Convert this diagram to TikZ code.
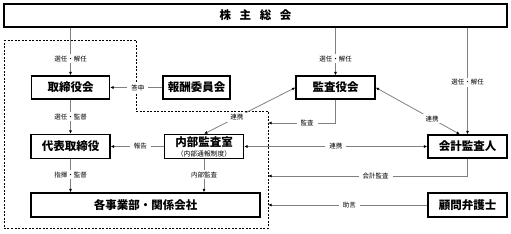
\documentclass[tikz,border=0pt]{standalone}
\usepackage{fontspec}
\newfontfamily\jp{Noto Sans CJK JP}
\usetikzlibrary{arrows.meta}

\begin{document}
\begin{tikzpicture}[x=1pt,y=-1pt,
  box/.style={draw,line width=1.2pt,minimum height=23pt,inner sep=0pt,font=\jp\bfseries\fontsize{11.5}{12}\selectfont},
  conn/.style={draw=black!50,line width=0.8pt},
  arr/.style={conn,-{Latex[length=3.5pt,width=3pt,color=black]}},
  twoway/.style={conn,{Latex[length=3.5pt,width=3pt,color=black]}-{Latex[length=3.5pt,width=3pt,color=black]}},
  lbl/.style={fill=white,inner sep=1.5pt,inner xsep=4pt,font=\jp\fontsize{6.5}{7}\selectfont}]
\useasboundingbox (0,0) rectangle (511,233);
\draw [line width=0.8pt,dash pattern=on 2pt off 1.5pt] (4,40) -- (136,40) -- (136,111) -- (268,111) -- (268,228) -- (4,228) -- cycle;
\node[box,minimum width=503pt] (soukai) at (255.5,15.5) {株\hspace{0.75em}主\hspace{0.75em}総\hspace{0.75em}会};
\node[box,minimum width=78pt] (torishimari) at (70.5,87.5) {取締役会};
\node[box,minimum width=67pt] (houshu) at (196.5,87.5) {報酬委員会};
\node[box,minimum width=79pt] (kansayaku) at (335.5,87.5) {監査役会};
\node[box,minimum width=79pt,minimum height=24pt] (daihyo) at (70.5,146.5) {代表取締役};
\node[box,minimum width=79pt,minimum height=24pt,align=center] (naibu) at (204,146.5) {内部監査室\\[-2pt]{\mdseries\fontsize{6.8}{7}\selectfont （内部通報制度）}};
\node[box,minimum width=79pt] (kaikei) at (467.5,146.5) {会計監査人};
\node[box,minimum width=229pt,minimum height=24pt] (jigyo) at (145.5,205) {各事業部・関係会社};
\node[box,minimum width=79pt,minimum height=24pt] (bengoshi) at (467.5,205) {顧問弁護士};
\coordinate (kansa) at (268,123);
\coordinate (kaikeikansa) at (268,176);
\coordinate (jogen) at (268,205);
\draw[arr] (soukai.south -| torishimari.north) -- node[lbl,pos=0.65]{選任・解任} (torishimari.north);
\draw[arr] (soukai.south -| kansayaku.north) -- node[lbl,pos=0.65]{選任・解任} (kansayaku.north);
\draw[arr] (soukai.south -| kaikei.north) -- node[lbl,pos=0.51]{選任・解任} (kaikei.north);
\draw[arr] (torishimari.south) -- node[lbl]{選任・監督} (daihyo.north);
\draw[arr] (daihyo.south) -- node[lbl,pos=0.47]{指揮・監督} (daihyo.south |- jigyo.north);
\draw[arr] (naibu.south) -- node[lbl,pos=0.47]{内部監査} (naibu.south |- jigyo.north);
\draw[arr] (houshu.west) -- node[lbl,pos=0.47]{答申} (torishimari.east);
\draw[arr] (naibu.west) -- node[lbl,pos=0.44]{報告} (daihyo.east);
\draw[twoway] (kansayaku.west) -- node[lbl,pos=0.64]{連携} (naibu.north);
\draw[twoway] (kansayaku.east) -- node[lbl,pos=0.67]{連携} ([xshift=-7.5pt]kaikei.north);
\draw[twoway] (naibu.east) -- node[lbl]{連携} (kaikei.west);
\draw[arr] (kansayaku.south) |- node[lbl,pos=0.71]{監査} (kansa);
\draw[arr] (kaikei.south) |- node[lbl,pos=0.73]{会計監査} (kaikeikansa);
\draw[arr] (bengoshi.west) -- node[lbl,pos=0.49]{助言} (jogen);
\end{tikzpicture}
\end{document}
